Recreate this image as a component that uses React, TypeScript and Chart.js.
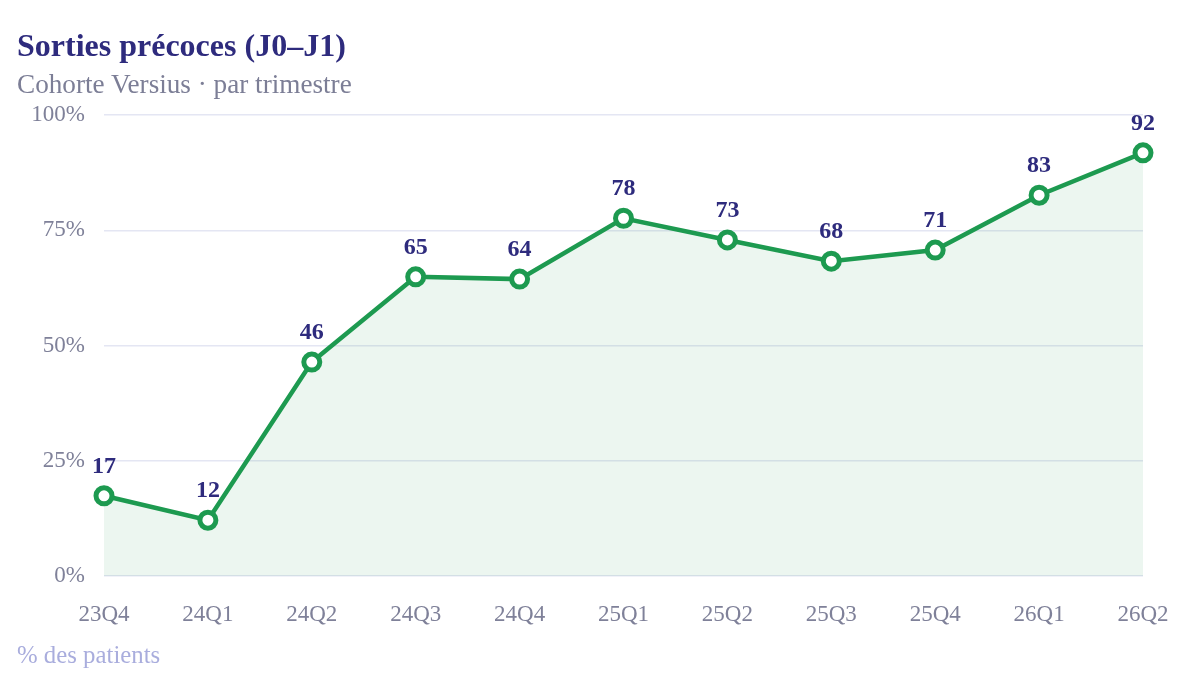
import React, { useEffect, useRef } from 'react';
import { Chart, registerables } from 'chart.js';

Chart.register(...registerables);

const quarters = ['23Q4', '24Q1', '24Q2', '24Q3', '24Q4', '25Q1', '25Q2', '25Q3', '25Q4', '26Q1', '26Q2'];
const earlyDischarge = [17.4, 12.1, 46.4, 64.9, 64.4, 77.6, 72.9, 68.3, 70.7, 82.6, 91.8];
const yTicks = [0, 25, 50, 75, 100];

const FONT = "'Liberation Serif', 'Times New Roman', serif";
const GREEN = '#1d9a50';
const INK = '#2e2b7d';

// draws the rounded value above each point
const valueLabels = {
  id: 'valueLabels',
  afterDatasetsDraw(chart: any) {
    const ctx = chart.ctx;
    const meta = chart.getDatasetMeta(0);
    ctx.save();
    ctx.font = `bold 24px ${FONT}`;
    ctx.fillStyle = INK;
    ctx.textAlign = 'center';
    ctx.textBaseline = 'alphabetic';
    meta.data.forEach((pt: any, i: number) => {
      ctx.fillText(String(Math.round(earlyDischarge[i])), pt.x, pt.y - 23);
    });
    ctx.restore();
  },
};

const App = () => {
  const canvasRef = useRef<HTMLCanvasElement | null>(null);
  const chartRef = useRef<Chart | null>(null);

  useEffect(() => {
    if (chartRef.current) chartRef.current.destroy();
    const ctx = canvasRef.current!.getContext('2d')!;

    chartRef.current = new Chart(ctx, {
      type: 'line',
      data: {
        labels: quarters,
        datasets: [
          {
            data: earlyDischarge,
            borderColor: GREEN,
            borderWidth: 4.5,
            backgroundColor: 'rgba(29, 154, 80, 0.085)',
            fill: 'origin',
            tension: 0,
            pointRadius: 8,
            pointBorderWidth: 5,
            pointBackgroundColor: '#ffffff',
            pointBorderColor: GREEN,
            clip: false as any,
          },
        ],
      },
      options: {
        responsive: false,
        animation: false,
        layout: { padding: { top: 115, right: 41, bottom: 0, left: 0 } },
        plugins: {
          legend: { display: false },
          tooltip: { enabled: false },
        },
        scales: {
          x: {
            offset: false,
            grid: { display: false, drawTicks: false },
            border: { display: false },
            ticks: {
              color: '#7f8199',
              font: { family: FONT, size: 23 },
              padding: 25,
              maxRotation: 0,
              autoSkip: false,
            },
            afterFit(scale: any) {
              scale.height = 104;
              scale.paddingLeft = 0;
              scale.paddingRight = 0;
            },
          },
          y: {
            min: 0,
            max: 100,
            afterBuildTicks(scale: any) {
              scale.ticks = yTicks.map((v) => ({ value: v }));
            },
            grid: { color: '#e4e6f3', lineWidth: 1.5, drawTicks: false },
            border: { display: false },
            ticks: {
              color: '#7f8199',
              font: { family: FONT, size: 23 },
              padding: 19,
              callback: (v: any) => `${v}%`,
            },
            afterFit(scale: any) {
              scale.width = 104;
            },
          },
        },
      },
      plugins: [valueLabels],
    });

    return () => {
      if (chartRef.current) {
        chartRef.current.destroy();
        chartRef.current = null;
      }
    };
  }, []);

  return (
    <div style={{ position: 'absolute', left: 0, top: 0, width: 1184, height: 680, background: '#fff', fontFamily: FONT }}>
      <canvas ref={canvasRef} width={1184} height={680} style={{ position: 'absolute', left: 0, top: 0 }} />
      <div style={{ position: 'absolute', left: 17, top: 30, fontSize: 32, lineHeight: '31px', fontWeight: 'bold', color: INK }}>
        Sorties précoces (J0–J1)
      </div>
      <div style={{ position: 'absolute', left: 17, top: 71, fontSize: 27.2, lineHeight: '26px', color: '#7c7e96' }}>
        Cohorte Versius · par trimestre
      </div>
      <div style={{ position: 'absolute', left: 17, top: 643, fontSize: 24.8, lineHeight: '24px', color: '#a9addd' }}>
        % des patients
      </div>
    </div>
  );
};

export default App;
